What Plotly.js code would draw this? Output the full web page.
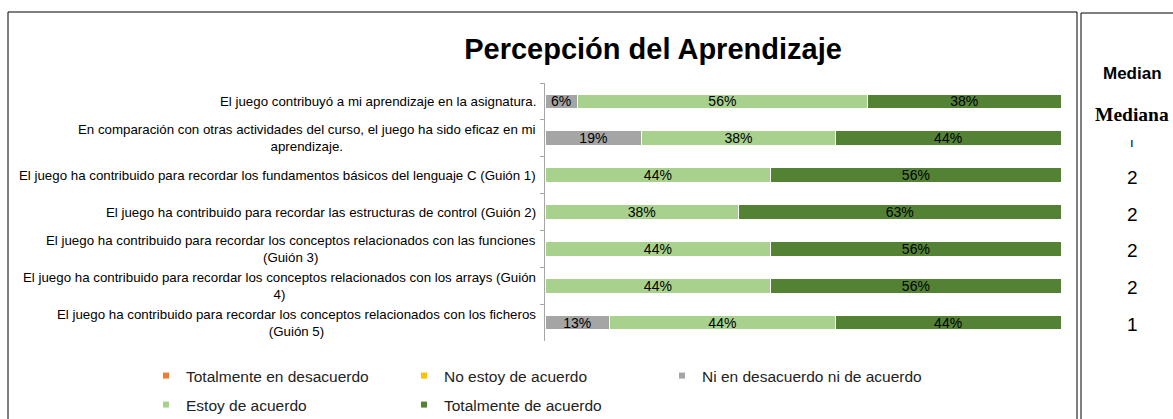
<!DOCTYPE html>
<html>
<head>
<meta charset="utf-8">
<script src="https://cdn.plot.ly/plotly-3.0.1.min.js"></script>
<style>
  html, body { margin: 0; padding: 0; background: #fff; }
  #chart { width: 1173px; height: 419px; }
</style>
</head>
<body>
<div id="chart"></div>
<script>
// ---- data ----
const categories = [
  "El juego contribuyó a mi aprendizaje en la asignatura.",
  "En comparación con otras actividades del curso, el juego ha sido eficaz en mi<br>aprendizaje.",
  "El juego ha contribuido para recordar los fundamentos básicos del lenguaje C (Guión 1)",
  "El juego ha contribuido para recordar las estructuras de control (Guión 2)",
  "El juego ha contribuido para recordar los conceptos relacionados con las funciones<br>(Guión 3)",
  "El juego ha contribuido para recordar los conceptos relacionados con los arrays (Guión<br>4)",
  "El juego ha contribuido para recordar los conceptos relacionados con los ficheros<br>(Guión 5)"
];
const seriesNames = [
  "Totalmente en desacuerdo",
  "No estoy de acuerdo",
  "Ni en desacuerdo ni de acuerdo",
  "Estoy de acuerdo",
  "Totalmente de acuerdo"
];
const totalmenteDesacuerdo = [0, 0, 0, 0, 0, 0, 0];
const noDeAcuerdo          = [0, 0, 0, 0, 0, 0, 0];
const niNi                 = [6.25, 18.75, 0, 0, 0, 0, 12.5];
const deAcuerdo            = [56.25, 37.5, 43.75, 37.5, 43.75, 43.75, 43.75];
const totalmenteAcuerdo    = [37.5, 43.75, 56.25, 62.5, 56.25, 56.25, 43.75];
const medianHeader1 = "Median";
const medianHeader2 = "Mediana";
const medianLabels = ["", "ı", "2", "2", "2", "2", "1"];
const chartTitle = "Percepción del Aprendizaje";

const colors = ["#ED7D31", "#FFC000", "#A5A5A5", "#A9D18E", "#548235"];
const seriesValues = [totalmenteDesacuerdo, noDeAcuerdo, niNi, deAcuerdo, totalmenteAcuerdo];

const FONT = "Liberation Sans, Arial, Helvetica, sans-serif";

// legend slot of each series: text start x (px) and row centre y (px)
const legendSlots = [[186, 376], [444, 376], [702, 376], [186, 405], [444, 405]];
const legendIds = ["legend", "legend2", "legend3", "legend4", "legend5"];

const traces = [];
seriesValues.forEach((vals, i) => {
  traces.push({
    type: "bar",
    orientation: "h",
    name: seriesNames[i],
    y: categories,
    x: vals,
    marker: { color: colors[i], line: { color: "#FFFFFF", width: 1 } },
    text: vals.map(v => v > 0 ? Math.round(v) + "%" : ""),
    textposition: "inside",
    insidetextanchor: "middle",
    textangle: 0,
    constraintext: "none",
    textfont: { family: FONT, size: 14, color: "#000000" },
    hoverinfo: "skip",
    showlegend: false
  });
});
seriesValues.forEach((vals, i) => {
  traces.push({
    type: "scatter",
    mode: "markers",
    name: seriesNames[i],
    x: [null],
    y: [null],
    marker: { color: colors[i], symbol: "square", size: 6 },
    legend: legendIds[i],
    showlegend: true,
    hoverinfo: "skip"
  });
});

const annotations = [];
categories.forEach((c, i) => {
  annotations.push({
    xref: "paper", yref: "y", x: 0, y: c,
    xanchor: "right", yanchor: "middle", xshift: -7,
    align: "center", showarrow: false,
    text: c,
    font: { family: FONT, size: 13.3, color: "#000000" }
  });
});
medianLabels.forEach((m, i) => {
  if (!m) return;
  annotations.push({
    xref: "paper", yref: "y", x: 1.1376, y: categories[i],
    xanchor: "center", yanchor: "middle", yshift: (i === 1 ? -4 : -2),
    showarrow: false, text: m,
    font: { family: FONT, size: (i === 1 ? 13 : 19), color: "#000000" }
  });
});
annotations.push({
  xref: "paper", yref: "paper", x: 1.1376, y: 1.035,
  xanchor: "center", yanchor: "middle", showarrow: false,
  text: "<b>" + medianHeader1 + "</b>",
  font: { family: FONT, size: 17, color: "#000000" }
});
annotations.push({
  xref: "paper", yref: "paper", x: 1.1376, y: 0.876,
  xanchor: "center", yanchor: "middle", showarrow: false,
  text: "<b>" + medianHeader2 + "</b>",
  font: { family: "Liberation Serif, Times New Roman, serif", size: 19.5, color: "#000000" }
});

const layout = {
  width: 1173,
  height: 419,
  margin: { l: 545, r: 112, t: 83, b: 78 },
  paper_bgcolor: "#FFFFFF",
  plot_bgcolor: "#FFFFFF",
  barmode: "stack",
  bargap: 0.6,
  font: { family: FONT, color: "#000000" },
  title: {
    text: "<b>" + chartTitle + "</b>",
    font: { family: FONT, size: 29, color: "#000000" },
    xref: "container", x: 653 / 1173, xanchor: "center",
    yref: "container", y: 1 - 49 / 419, yanchor: "middle"
  },
  xaxis: {
    range: [0, 100],
    showgrid: false, zeroline: false, showline: false,
    showticklabels: false, ticks: "", fixedrange: true
  },
  yaxis: {
    type: "category",
    categoryorder: "array",
    categoryarray: categories,
    range: [categories.length - 0.5, -0.5],
    showgrid: false, zeroline: false,
    showline: true, linecolor: "#A6A6A6", linewidth: 1,
    ticks: "outside", ticklen: 4, tickcolor: "#A6A6A6", tickwidth: 1,
    tickson: "boundaries",
    showticklabels: false, fixedrange: true
  },
  shapes: [
    { type: "rect", xref: "paper", yref: "paper",
      x0: (8 - 545) / 516, x1: (1077 - 545) / 516,
      y0: (341 - 440) / 258, y1: (341 - 12) / 258,
      line: { color: "#000000", width: 1 }, fillcolor: "rgba(0,0,0,0)" },
    { type: "rect", xref: "paper", yref: "paper",
      x0: (1081 - 545) / 516, x1: (1200 - 545) / 516,
      y0: (341 - 440) / 258, y1: (341 - 13) / 258,
      line: { color: "#000000", width: 1 }, fillcolor: "rgba(0,0,0,0)" }
  ],
  annotations: annotations,
  showlegend: true
};
legendIds.forEach((id, i) => {
  layout[id] = {
    orientation: "h",
    xref: "container", yref: "container",
    x: (legendSlots[i][0] - 40) / 1173,
    y: 1 - legendSlots[i][1] / 419,
    xanchor: "left", yanchor: "middle",
    font: { family: FONT, size: 15.5, color: "#222222" },
    bgcolor: "rgba(0,0,0,0)"
  };
});

Plotly.newPlot("chart", traces, layout, { displayModeBar: false, staticPlot: true });
</script>
</body>
</html>
